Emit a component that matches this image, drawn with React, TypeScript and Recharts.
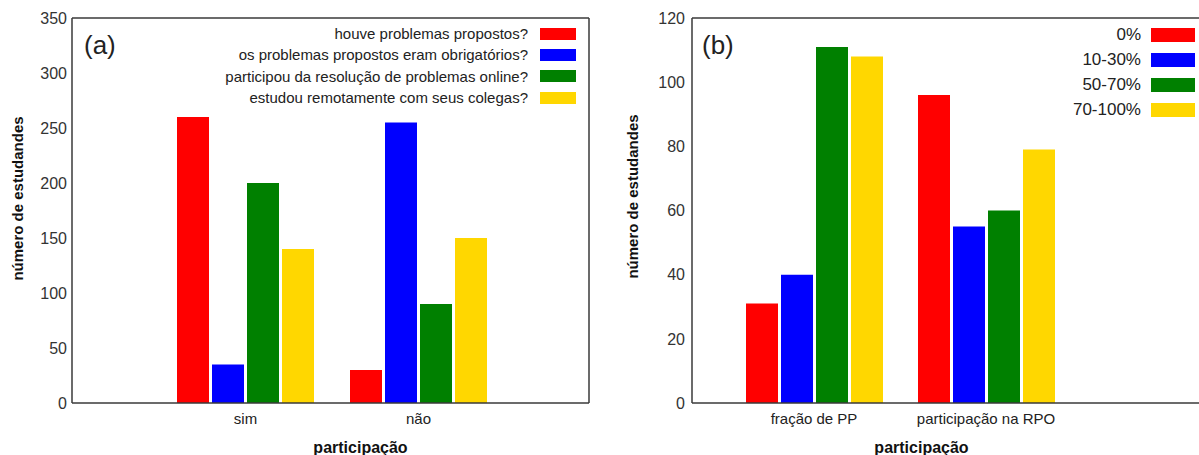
import { Bar, BarChart, XAxis, YAxis } from "recharts";

// painel (a)
const categoriasA = ["sim", "não"];
const seriesA = [
  "houve problemas propostos?",
  "os problemas propostos eram obrigatórios?",
  "participou da resolução de problemas online?",
  "estudou remotamente com seus colegas?",
];
const houveProblemas = [260, 30];
const eramObrigatorios = [35, 255];
const participouOnline = [200, 90];
const estudouRemoto = [140, 150];
const ticksA = [0, 50, 100, 150, 200, 250, 300, 350];

// painel (b)
const categoriasB = ["fração de PP", "participação na RPO"];
const seriesB = ["0%", "10-30%", "50-70%", "70-100%"];
const pct0 = [31, 96];
const pct10a30 = [40, 55];
const pct50a70 = [111, 60];
const pct70a100 = [108, 79];
const ticksB = [0, 20, 40, 60, 80, 100, 120];

const cores = ["#ff0000", "#0000ff", "#008000", "#ffd700"];
const FONTE = "'Liberation Sans', Arial, sans-serif";
const EIXO = "#3a3a3a";

const dataA = categoriasA.map((cat, i) => ({
  cat,
  s0: houveProblemas[i],
  s1: eramObrigatorios[i],
  s2: participouOnline[i],
  s3: estudouRemoto[i],
}));

const dataB = categoriasB.map((cat, i) => ({
  cat,
  s0: pct0[i],
  s1: pct10a30[i],
  s2: pct50a70[i],
  s3: pct70a100[i],
}));

const TituloY = (props: any) => {
  const { viewBox, ox, oy, txt } = props;
  const cx = viewBox.x + ox;
  const cy = viewBox.y + viewBox.height / 2 + oy;
  return (
    <text
      x={cx}
      y={cy}
      transform={`rotate(-90 ${cx} ${cy})`}
      textAnchor="middle"
      dominantBaseline="central"
      fontFamily={FONTE}
      fontWeight="bold"
      fontSize={15}
      fill="#111"
    >
      {txt}
    </text>
  );
};

const TituloX = (props: any) => {
  const { viewBox, ox, txt } = props;
  return (
    <text
      x={viewBox.x + viewBox.width / 2 + ox}
      y={viewBox.y + 50}
      textAnchor="middle"
      fontFamily={FONTE}
      fontWeight="bold"
      fontSize={16}
      fill="#111"
    >
      {txt}
    </text>
  );
};

type LegendaProps = {
  nomes: string[];
  top: number;
  right: number;
  rowH: number;
  fontSize: number;
  sw: number;
  sh: number;
  gap: number;
};

const Legenda = ({ nomes, top, right, rowH, fontSize, sw, sh, gap }: LegendaProps) => (
  <div
    style={{
      position: "absolute",
      top,
      right,
      fontFamily: FONTE,
      fontSize,
      color: "#222",
    }}
  >
    {nomes.map((n, i) => (
      <div
        key={n}
        style={{
          height: rowH,
          display: "flex",
          alignItems: "center",
          justifyContent: "flex-end",
          whiteSpace: "nowrap",
        }}
      >
        <span>{n}</span>
        <span
          style={{
            display: "inline-block",
            width: sw,
            height: sh,
            marginLeft: gap,
            background: cores[i],
          }}
        />
      </div>
    ))}
  </div>
);

const Painel = ({ letra, left }: { letra: string; left: number }) => (
  <div
    style={{
      position: "absolute",
      left,
      top: 30,
      fontFamily: FONTE,
      fontSize: 26,
      color: "#222",
    }}
  >
    {letra}
  </div>
);

const tickStyle = { fill: "#333", fontSize: 16, fontFamily: FONTE };
const catStyle = { fill: "#222", fontSize: 15, fontFamily: FONTE };
const axisLine = { stroke: EIXO, strokeWidth: 1.5 };

export default function App() {
  return (
    <div
      style={{
        position: "absolute",
        left: 0,
        top: 0,
        width: 1199,
        height: 455,
        overflow: "hidden",
        background: "#fff",
      }}
    >
      <div style={{ position: "absolute", left: 0, top: 0 }}>
        <BarChart
          width={600}
          height={455}
          data={dataA}
          margin={{ top: 18, right: 11, bottom: 0, left: 0 }}
          barCategoryGap={18}
          barGap={3}
        >
          <XAxis
            dataKey="cat"
            height={52}
            padding={{ left: 87, right: 84 }}
            tickLine={false}
            tickSize={6}
            tickMargin={4}
            tick={catStyle}
            axisLine={axisLine}
            label={<TituloX txt="participação" ox={30} />}
          />
          <XAxis
            xAxisId="t"
            dataKey="cat"
            orientation="top"
            mirror
            height={1}
            padding={{ left: 87, right: 84 }}
            tick={false}
            tickSize={4}
            tickLine={{ stroke: EIXO }}
            axisLine={axisLine}
          />
          <YAxis
            width={72}
            domain={[0, 350]}
            ticks={ticksA}
            tickLine={false}
            tickSize={0}
            tickMargin={5}
            tick={tickStyle}
            axisLine={axisLine}
            label={<TituloY txt="número de estudandes" ox={17} oy={-12} />}
          />
          <YAxis
            yAxisId="r"
            orientation="right"
            mirror
            width={1}
            domain={[0, 350]}
            ticks={ticksA}
            tick={false}
            tickSize={4}
            tickLine={{ stroke: EIXO }}
            axisLine={axisLine}
          />
          {seriesA.map((nome, i) => (
            <Bar
              key={nome}
              dataKey={`s${i}`}
              name={nome}
              fill={cores[i]}
              isAnimationActive={false}
            />
          ))}
        </BarChart>
      </div>
      <Painel letra="(a)" left={84} />
      <Legenda
        nomes={seriesA}
        top={23}
        right={1199 - 576}
        rowH={21.3}
        fontSize={15}
        sw={36}
        sh={12}
        gap={12}
      />

      <div style={{ position: "absolute", left: 600, top: 0 }}>
        <BarChart
          width={599}
          height={455}
          data={dataB}
          margin={{ top: 18, right: 0, bottom: 0, left: 0 }}
          barCategoryGap={18}
          barGap={3}
        >
          <XAxis
            dataKey="cat"
            height={52}
            padding={{ left: 36, right: 127 }}
            tickLine={false}
            tickSize={6}
            tickMargin={4}
            tick={catStyle}
            axisLine={axisLine}
            label={<TituloX txt="participação" ox={-24} />}
          />
          <XAxis
            xAxisId="t"
            dataKey="cat"
            orientation="top"
            mirror
            height={1}
            padding={{ left: 36, right: 127 }}
            tick={false}
            tickSize={4}
            tickLine={{ stroke: EIXO }}
            axisLine={axisLine}
          />
          <YAxis
            width={92}
            domain={[0, 120]}
            ticks={ticksB}
            tickLine={false}
            tickSize={0}
            tickMargin={7}
            tick={tickStyle}
            axisLine={axisLine}
            label={<TituloY txt="número de estudandes" ox={32} oy={-14} />}
          />
          {seriesB.map((nome, i) => (
            <Bar
              key={nome}
              dataKey={`s${i}`}
              name={nome}
              fill={cores[i]}
              isAnimationActive={false}
            />
          ))}
        </BarChart>
      </div>
      <Painel letra="(b)" left={702} />
      <Legenda
        nomes={seriesB}
        top={22.5}
        right={4}
        rowH={25}
        fontSize={17}
        sw={44}
        sh={14}
        gap={10}
      />
    </div>
  );
}
